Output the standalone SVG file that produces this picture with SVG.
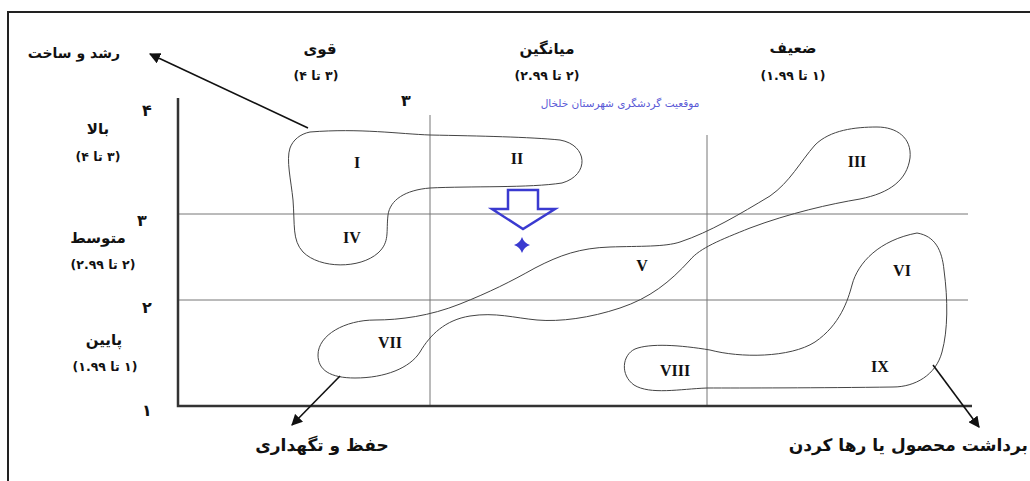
<svg xmlns="http://www.w3.org/2000/svg" width="1030" height="481" viewBox="0 0 1030 481">
<defs>
<style>
.fa{font-family:"DejaVu Sans","Noto Sans",sans-serif;font-weight:bold;fill:#111;direction:rtl;text-anchor:middle}
.t1{font-size:15px}
.t2{font-size:12.5px}
.t3{font-size:17px}
.num{font-family:"DejaVu Sans",sans-serif;font-weight:bold;font-size:16px;fill:#111;text-anchor:middle}
.rn{font-family:"Liberation Serif","Times New Roman",serif;font-weight:bold;font-size:16px;fill:#111;text-anchor:middle}
.grid{stroke:#777;stroke-width:1;fill:none}
.axis{stroke:#333;stroke-width:2.5;fill:none}
.blob{stroke:#444;stroke-width:1;fill:none}
.arr{stroke:#111;stroke-width:1.6;fill:none;marker-end:url(#ah)}
</style>
<marker id="ah" viewBox="0 0 10 10" refX="9" refY="5" markerWidth="7" markerHeight="7" orient="auto" markerUnits="strokeWidth">
<path d="M0,0 L10,5 L0,10 Z" fill="#111"/>
</marker>
</defs>
<rect width="1030" height="481" fill="#fff"/>
<g id="frame">
<path d="M8,481 V12 H1030" fill="none" stroke="#222" stroke-width="2"/>
</g>
<g id="grid">
<line class="grid" x1="430" y1="115" x2="430" y2="406"/>
<line class="grid" x1="707" y1="135" x2="707" y2="406"/>
<line class="grid" x1="178" y1="214" x2="968" y2="214"/>
<line class="grid" x1="178" y1="300" x2="968" y2="300"/>
<path class="axis" d="M178,98 V406 H972"/>
</g>
<g id="axis-labels">
<text class="fa t1" x="320" y="54">قوی</text>
<text class="fa t2" x="316" y="80">(۳ تا ۴)</text>
<text class="fa t1" x="547" y="54">میانگین</text>
<text class="fa t2" x="547" y="80">(۲ تا ۲.۹۹)</text>
<text class="fa t1" x="793" y="53">ضعیف</text>
<text class="fa t2" x="793" y="80">(۱ تا ۱.۹۹)</text>
<text class="num" x="406" y="106">۳</text>
<text class="num" x="147" y="116">۴</text>
<text class="fa t1" x="98" y="134">بالا</text>
<text class="fa t2" x="98" y="161">(۳ تا ۴)</text>
<text class="num" x="142" y="226">۳</text>
<text class="fa t1" x="98" y="243">متوسط</text>
<text class="fa t2" x="103" y="269">(۲ تا ۲.۹۹)</text>
<text class="num" x="147" y="313">۲</text>
<text class="fa t1" x="104" y="345">پایین</text>
<text class="fa t2" x="105" y="371">(۱ تا ۱.۹۹)</text>
<text class="num" x="147" y="416">۱</text>
<text x="620" y="107" style="font-family:'DejaVu Sans',sans-serif;font-size:10.5px;fill:#5a5ad6;direction:rtl;text-anchor:middle">موقعیت گردشگری شهرستان خلخال</text>
</g>
<g id="group-1">
<path class="blob" d="M310,132 C360,128 400,134 430,135 C480,136 530,137 560,140 C588,145 590,175 562,183 C530,188 470,186 430,188 C405,190 390,200 388,215 C386,232 390,242 378,253 C360,269 320,269 303,252 C292,240 295,225 293,200 C291,180 286,160 290,148 C293,140 300,134 310,132 Z"/>
<text class="rn" x="357" y="168">I</text>
<text class="rn" x="517" y="164">II</text>
<text class="rn" x="352" y="243">IV</text>
</g>
<g id="group-2">
<path class="blob" d="M877,127 C897,127 912,138 910,158 C907,180 890,193 860,199 C830,204 790,213 750,228 C720,240 700,248 690,260 C670,282 650,298 620,308 C590,318 560,322 537,320 C515,318 495,312 470,316 C445,320 430,335 420,352 C410,368 385,378 355,378 C330,378 318,370 318,355 C318,335 345,320 375,320 C400,320 430,316 460,304 C490,292 510,282 535,268 C560,255 580,248 610,247 C640,246 665,247 680,242 C710,232 740,214 770,196 C790,182 800,162 815,145 C830,130 855,127 877,127 Z"/>
<text class="rn" x="857" y="167">III</text>
<text class="rn" x="642" y="271">V</text>
<text class="rn" x="390" y="348">VII</text>
</g>
<g id="group-3">
<path class="blob" d="M917,233 C935,236 942,250 944,270 C948,300 948,330 942,352 C936,375 915,387 893,387 C820,388 740,388 707,388 C680,389 650,395 634,385 C620,375 622,355 635,349 C650,343 680,345 710,350 C740,358 790,358 815,342 C840,325 848,300 852,285 C858,262 880,240 917,233 Z"/>
<text class="rn" x="902" y="276">VI</text>
<text class="rn" x="675" y="376">VIII</text>
<text class="rn" x="880" y="372">IX</text>
</g>
<g id="position">
<path d="M508,190 H538 V209 H555 L523,229 L492,209 H508 Z" fill="none" stroke="#3a3ad0" stroke-width="2.5" stroke-linejoin="miter"/>
<path d="M522,237 Q524,243 530,245 Q524,247 522,253 Q520,247 514,245 Q520,243 522,237 Z" fill="#3a3ad0"/>
</g>
<g id="connectors">
<line class="arr" x1="308" y1="128" x2="150" y2="54"/>
<line class="arr" x1="340" y1="376" x2="292" y2="425"/>
<line class="arr" x1="933" y1="365" x2="979" y2="427"/>
</g>
<g id="outcome-labels">
<text class="fa" x="120" y="58" style="font-size:14px;text-anchor:start">رشد و ساخت</text>
<text class="fa t3" x="322" y="451">حفظ و تگهداری</text>
<text class="fa t3" x="1028" y="451" style="text-anchor:start">برداشت محصول یا رها کردن</text>
</g>
</svg>
